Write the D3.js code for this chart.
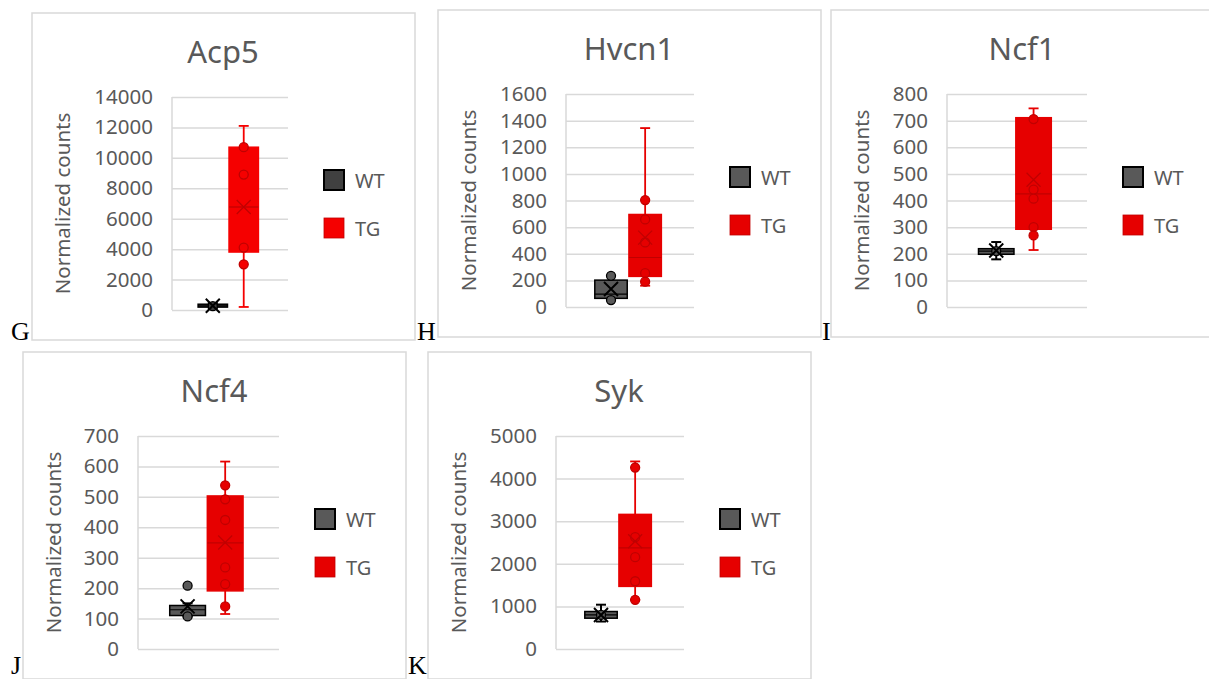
<!DOCTYPE html>
<html>
<head>
<meta charset="UTF-8">
<title>Box plots</title>
<script src="https://cdn.jsdelivr.net/npm/d3@7"></script>
<style>
  body { margin: 0; background: #fff; }
  svg { display: block; }
</style>
</head>
<body>
<div id="chart"></div>
<script>
// data
var genes   = ["Acp5", "Hvcn1", "Ncf1", "Ncf4", "Syk"];
var letters = ["G", "H", "I", "J", "K"];
var groups  = ["WT", "TG"];
var yMax    = [14000, 1600, 800, 700, 5000];
var yStep   = [2000, 200, 100, 100, 1000];

// [min, q1, median, q3, max, mean]
var wtStats = [
  [120, 190, 270, 380, 450, 280],
  [52, 65, 97, 202, 234, 135],
  [179, 198, 210, 219, 244, 212],
  [107, 110, 129, 143, 150, 140],
  [645, 723, 800, 880, 1040, 800]
];
var tgStats = [
  [200, 3810, 6770, 10700, 12100, 6770],
  [160, 230, 372, 695, 1344, 521],
  [214, 292, 425, 711, 746, 478],
  [115, 191, 349, 503, 616, 350],
  [1155, 1470, 2375, 3160, 4403, 2530]
];
var wtPoints = [
  [250],
  [234, 52],
  [210],
  [208, 107],
  [800]
];
var tgPoints = [
  [10700, 8900, 4100, 3000],
  [803, 658, 485, 254, 190],
  [706, 441, 407, 300, 269],
  [538, 492, 424, 268, 213, 140],
  [4260, 2625, 2155, 1590, 1155]
];

// layout of the five panels
var frameX  = [32, 438, 831, 23, 428];
var frameY  = [13, 10, 10, 352, 352];
var plotOff = [140, 128, 116, 115, 128];   // plot left inside frame
var letterPos = [[11, 340], [417, 340], [822, 340], [11, 674], [408, 674]];

var textCol = "#595959", gridCol = "#d9d9d9";
var wtFill = ["#404040", "#595959", "#595959", "#595959", "#595959"];
var tgFill = ["#f50000", "#e60000", "#e60000", "#e60000", "#e60000"];
var tgDark = "#c00000";

var svg = d3.select("#chart").append("svg")
  .attr("width", 1209).attr("height", 679);

genes.forEach(function(gene, i) {
  var fx = frameX[i], fy = frameY[i];
  var g = svg.append("g");

  g.append("rect")
    .attr("x", fx).attr("y", fy).attr("width", 383).attr("height", 327)
    .attr("fill", "#fff").attr("stroke", gridCol).attr("stroke-width", 1.5);

  var left = fx + plotOff[i], right = fx + 256;
  var top = fy + 84, bottom = fy + 297;
  var W = right - left;

  var y = d3.scaleLinear().domain([0, yMax[i]]).range([bottom, top]);
  var x = d3.scaleBand().domain(groups)
    .range([left + 0.225 * W, left + 0.745 * W]).paddingInner(0.05);

  // title
  g.append("text")
    .attr("x", fx + 191).attr("y", fy + 50)
    .attr("text-anchor", "middle")
    .attr("font-family", "Noto Sans, sans-serif").attr("font-size", 31)
    .attr("fill", textCol).text(gene);

  // axis with gridlines
  var ax = g.append("g")
    .attr("transform", "translate(" + left + ",0)")
    .call(d3.axisLeft(y)
      .tickValues(d3.range(0, yMax[i] + 1, yStep[i]))
      .tickFormat(d3.format("d"))
      .tickSize(-W).tickPadding(19));
  ax.select(".domain").remove();
  ax.selectAll(".tick line").attr("stroke", gridCol).attr("stroke-width", 1.5);
  ax.selectAll(".tick text")
    .attr("fill", textCol)
    .attr("font-family", "Noto Sans, sans-serif").attr("font-size", 20.5);
  g.append("line")
    .attr("x1", left).attr("x2", left).attr("y1", top).attr("y2", bottom)
    .attr("stroke", gridCol).attr("stroke-width", 1.5);

  // axis title
  g.append("text")
    .attr("transform", "translate(" + (fx + 30) + "," + ((top + bottom) / 2) + ") rotate(-90)")
    .attr("text-anchor", "middle").attr("dominant-baseline", "central")
    .attr("font-family", "Noto Sans, sans-serif").attr("font-size", 20.5)
    .attr("fill", textCol).text("Normalized counts");

  // boxes
  var series = [
    {key: "WT", s: wtStats[i], pts: wtPoints[i], fill: wtFill[i], stroke: "#000", mark: "#000"},
    {key: "TG", s: tgStats[i], pts: tgPoints[i], fill: tgFill[i], stroke: tgFill[i], mark: tgDark}
  ];
  series.forEach(function(d) {
    var cx = x(d.key) + x.bandwidth() / 2;
    var bw = x.bandwidth();
    var s = d.s;
    var col = d.key === "WT" ? "#000" : tgFill[i];
    var sw = d.key === "WT" ? 2 : 1.8;
    // whiskers
    g.append("line").attr("x1", cx).attr("x2", cx)
      .attr("y1", y(s[0])).attr("y2", y(s[4]))
      .attr("stroke", col).attr("stroke-width", sw);
    [s[0], s[4]].forEach(function(v) {
      g.append("line").attr("x1", cx - 5).attr("x2", cx + 5)
        .attr("y1", y(v)).attr("y2", y(v))
        .attr("stroke", col).attr("stroke-width", sw);
    });
    // box
    g.append("rect")
      .attr("x", cx - bw / 2).attr("width", bw)
      .attr("y", y(s[3])).attr("height", Math.max(1, y(s[1]) - y(s[3])))
      .attr("fill", d.fill).attr("stroke", d.stroke).attr("stroke-width", 1.5);
    // median
    g.append("line").attr("x1", cx - bw / 2).attr("x2", cx + bw / 2)
      .attr("y1", y(s[2])).attr("y2", y(s[2]))
      .attr("stroke", d.mark).attr("stroke-width", 1.2);
    // points
    d.pts.forEach(function(v) {
      g.append("circle").attr("cx", cx).attr("cy", y(v)).attr("r", 4.5)
        .attr("fill", d.fill)
        .attr("stroke", d.mark).attr("stroke-width", 1.3);
    });
    // mean marker
    var my = y(s[5]), m = 7;
    g.append("path")
      .attr("d", "M" + (cx - m) + "," + (my - m) + "L" + (cx + m) + "," + (my + m) +
                 "M" + (cx + m) + "," + (my - m) + "L" + (cx - m) + "," + (my + m))
      .attr("stroke", d.mark).attr("stroke-width", d.key === "WT" ? 2 : 1.3)
      .attr("fill", "none");
  });

  // legend
  var lx = fx + 292;
  groups.forEach(function(k, j) {
    var ly = fy + 157 + j * 48;
    g.append("rect")
      .attr("x", lx).attr("y", ly).attr("width", 20).attr("height", 20)
      .attr("fill", k === "WT" ? wtFill[i] : tgFill[i])
      .attr("stroke", k === "WT" ? "#000" : tgDark)
      .attr("stroke-width", k === "WT" ? 2 : 0.8);
    g.append("text")
      .attr("x", lx + 31).attr("y", ly + 10)
      .attr("dominant-baseline", "central")
      .attr("font-family", "Noto Sans, sans-serif").attr("font-size", 20)
      .attr("fill", textCol).text(k);
  });
});

// panel letters
letters.forEach(function(l, i) {
  svg.append("text")
    .attr("x", letterPos[i][0]).attr("y", letterPos[i][1])
    .attr("font-family", "Liberation Serif, Times New Roman, serif")
    .attr("font-size", 26).attr("fill", "#000").text(l);
});
</script>
</body>
</html>
